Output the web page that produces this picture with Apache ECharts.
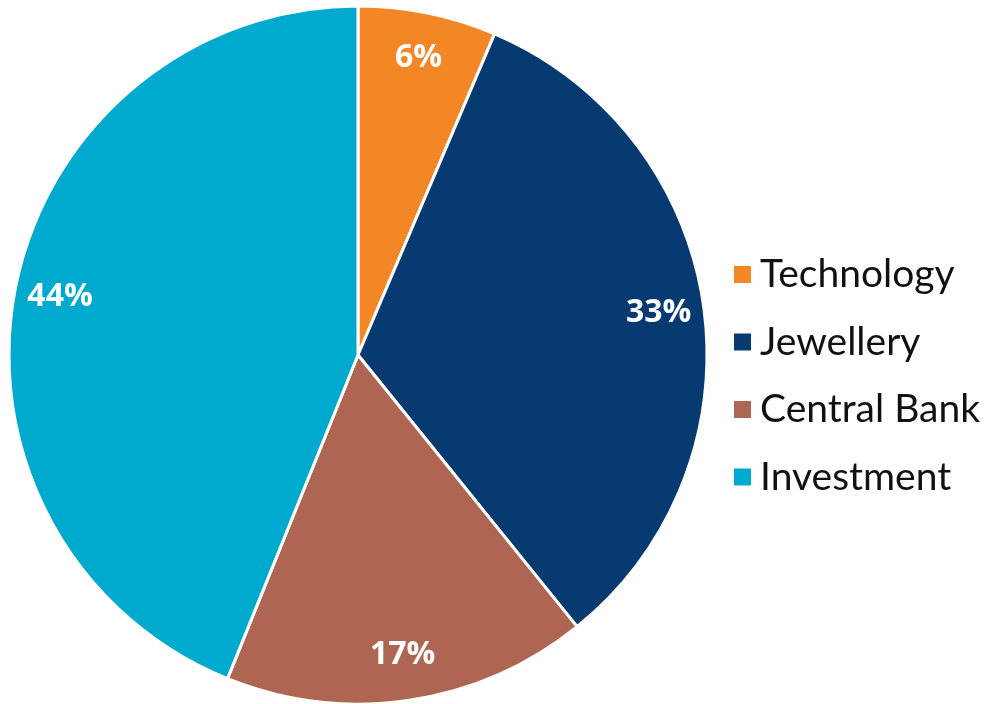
<!DOCTYPE html>
<html>
<head>
<meta charset="utf-8">
<script src="https://cdn.jsdelivr.net/npm/echarts@6/dist/echarts.min.js"></script>
<style>html,body{margin:0;padding:0;background:#fff}#c{width:986px;height:704px}</style>
</head>
<body>
<div id="c"></div>
<script>
var categories = ['Technology', 'Jewellery', 'Central Bank', 'Investment'];
var values = [6.4, 32.8, 16.9, 43.9];
var colors = ['#F38725', '#063A70', '#AE6652', '#00A9CE'];

var data = categories.map(function (n, i) { return { name: n, value: values[i], itemStyle: { color: colors[i] } }; });
var labelData = categories.map(function (n, i) { return { name: n, value: values[i] }; });

var chart = echarts.init(document.getElementById('c'));
chart.setOption({
  animation: false,
  legend: {
    orient: 'vertical',
    left: 727,
    top: 250,
    itemWidth: 19,
    itemHeight: 19,
    itemGap: 28.5,
    icon: 'rect',
    textStyle: { fontFamily: 'Lato', fontSize: 39, lineHeight: 39, color: '#111', padding: [0, 0, 0, 3] },
    data: categories
  },
  series: [
    {
      type: 'pie',
      center: [358, 355],
      radius: [0, 349],
      startAngle: 90,
      clockwise: true,
      data: data,
      label: { show: false },
      labelLine: { show: false },
      itemStyle: { borderColor: '#fff', borderWidth: 3 }
    },
    {
      type: 'pie',
      center: [358, 355],
      radius: [252, 349],
      startAngle: 90,
      clockwise: true,
      silent: true,
      legendHoverLink: false,
      data: labelData,
      itemStyle: { color: 'rgba(0,0,0,0)', borderWidth: 0 },
      label: {
        show: true,
        position: 'inside',
        formatter: function (p) { return Math.round(p.percent) + '%'; },
        color: '#fff',
        fontFamily: 'Open Sans',
        fontWeight: 'bold',
        fontSize: 32
      },
      labelLine: { show: false }
    }
  ]
});
</script>
</body>
</html>
